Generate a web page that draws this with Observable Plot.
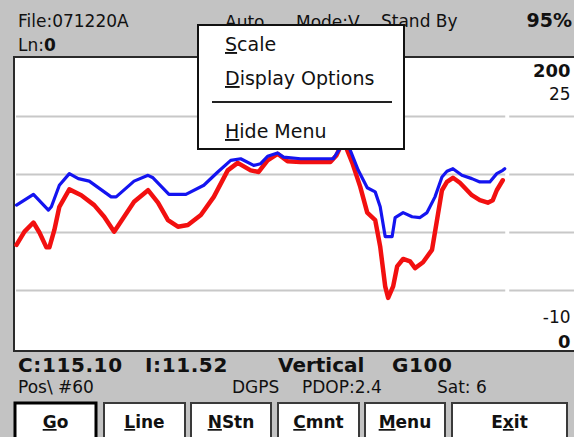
<!DOCTYPE html>
<html>
<head>
<meta charset="utf-8">
<script src="https://cdn.jsdelivr.net/npm/d3@7"></script>
<script src="https://cdn.jsdelivr.net/npm/@observablehq/plot@0.6"></script>
<style>
  html, body { margin: 0; padding: 0; }
  body { width: 574px; height: 437px; background: #c3c3c3; position: relative; overflow: hidden;
         font-family: "DejaVu Sans", sans-serif; }
  #frame { position: absolute; left: 13px; top: 56px; width: 570px; height: 292px;
           border: 2px solid #2a2a2a; background: #fff; box-sizing: content-box; }
  #chart { position: absolute; left: 16px; top: 58px; }
  #chrome { position: absolute; left: 0; top: 0; }
</style>
</head>
<body>
<div id="frame"></div>
<div id="chart"></div>
<script>
// ---- data (station along line, value) ----
const blueX = [0,1.7,3.2,3.5,4.3,5.3,6.2,7.3,9.5,10.0,11.8,13.2,13.7,15.3,17.0,18.8,20.2,21.5,22.5,23.8,24.5,25.2,26.2,26.8,28.5,31.8,32.5,33.0,33.5,34.3,35.2,36.0,36.5,37.0,37.7,38.0,38.8,39.7,40.5,41.2,42.0,42.7,43.2,43.8,44.7,45.7,46.5,47.5,48.2,48.8,49.0];
const blueV = [7.3,8.6,6.7,7.1,9.7,11.1,10.5,10.2,8.3,8.3,10.2,10.9,10.6,8.6,8.6,9.7,11.3,12.7,12.9,12.1,12.3,13.2,13.6,13.1,12.9,12.9,14.2,15.4,13.9,11.5,9.4,8.9,7.1,3.5,3.5,5.8,6.4,5.9,5.8,6.4,8.3,10.7,11.4,11.7,10.9,10.5,10.1,10.1,11.1,11.5,11.7];
const redX = [0,0.8,1.7,2.3,3.0,3.3,3.8,4.3,5.3,6.5,7.8,8.8,9.8,10.8,11.8,13.2,14.2,15.2,16.2,17.2,18.5,19.8,21.2,22.2,23.5,24.3,25.2,26.2,27.2,28.5,31.5,32.1,32.8,33.7,34.5,35.2,36.0,36.5,37.0,37.3,37.8,38.2,38.8,39.5,40.0,40.8,41.7,42.2,42.7,43.2,43.8,44.5,45.7,46.5,47.3,47.8,48.2,48.8];
const redV = [2.5,4.1,5.2,4.0,2.2,2.2,4.3,7.1,9.2,8.5,7.3,5.9,4.1,5.9,7.7,9.1,7.6,5.5,4.7,4.9,6.1,8.3,11.5,12.4,11.5,11.3,12.7,13.5,12.6,12.5,12.5,13.3,15.1,12.4,9.5,6.4,5.5,2.3,-2.5,-3.9,-2.5,-0.1,0.8,0.5,-0.3,0.4,1.9,5.5,9.1,10.1,10.6,10.0,8.5,7.9,7.6,7.9,9.1,10.3];
const gridValues = [18, 11, 4, -3];
const topScaleLabels = ["200", "25"];
const bottomScaleLabels = ["-10", "0"];

const header1 = ["File:071220A", "Auto", "Mode:V", "Stand By", "95%"];
const status1 = ["C:115.10", "I:11.52", "Vertical", "G100"];
const status2 = ["Pos\\ #60", "DGPS", "PDOP:2.4", "Sat: 6"];
const menuItems = ["Scale", "Display Options", "Hide Menu"];
const buttonLabels = ["Go", "Line", "NStn", "Cmnt", "Menu", "Exit"];
const buttonUnderline = [0, 0, 0, 0, 0, 1];

const blue = blueX.map((x, i) => ({x, v: blueV[i]}));
const red = redX.map((x, i) => ({x, v: redV[i]}));

const FONT = '"DejaVu Sans", sans-serif';

const chart = Plot.plot({
  width: 560, height: 291,
  marginTop: 0, marginRight: 0, marginBottom: 0, marginLeft: 0,
  x: {domain: [0, 56], axis: null},
  y: {domain: [-10, 25], axis: null},
  style: {background: "transparent", overflow: "visible", fontFamily: FONT},
  marks: [
    Plot.ruleY(gridValues, {x1: 0, x2: 49.1, stroke: "#c8c8c8", strokeWidth: 2}),
    Plot.ruleY(gridValues, {x1: 49.5, x2: 56, stroke: "#c8c8c8", strokeWidth: 2}),
    Plot.line(red, {x: "x", y: "v", stroke: "#f21010", strokeWidth: 4.5, strokeLinejoin: "round"}),
    Plot.line(blue, {x: "x", y: "v", stroke: "#1414f0", strokeWidth: 3.2, strokeLinejoin: "round"}),
    Plot.text([topScaleLabels[0]], {text: d => d, frameAnchor: "top-right", dx: -4, dy: 6, lineAnchor: "top", fontSize: 18, fontWeight: "bold", fill: "#111"}),
    Plot.text([topScaleLabels[1]], {text: d => d, frameAnchor: "top-right", dx: -4, dy: 30, lineAnchor: "top", fontSize: 17, fill: "#111"}),
    Plot.text([bottomScaleLabels[0]], {text: d => d, frameAnchor: "bottom-right", dx: -4, dy: -26, lineAnchor: "bottom", fontSize: 17, fill: "#111"}),
    Plot.text([bottomScaleLabels[1]], {text: d => d, frameAnchor: "bottom-right", dx: -4, dy: 0, lineAnchor: "bottom", fontSize: 18, fontWeight: "bold", fill: "#111"})
  ]
});
document.getElementById("chart").appendChild(chart);

// ---- device chrome ----
const svg = d3.create("svg").attr("id", "chrome").attr("width", 574).attr("height", 437)
  .style("font-family", FONT).style("font-size", "17px");

function txt(x, y, s, opts = {}) {
  const t = svg.append("text").attr("x", x).attr("y", y).attr("fill", "#111")
    .attr("font-size", opts.size || 17);
  if (opts.bold) t.attr("font-weight", "bold");
  if (opts.anchor) t.attr("text-anchor", opts.anchor);
  if (opts.ls) t.attr("letter-spacing", opts.ls);
  t.text(s);
  return t;
}
function txtU(x, y, s, ui, opts = {}) {
  const t = svg.append("text").attr("x", x).attr("y", y).attr("fill", "#111")
    .attr("font-size", opts.size || 17);
  if (opts.bold) t.attr("font-weight", "bold");
  if (opts.anchor) t.attr("text-anchor", opts.anchor);
  t.append("tspan").text(s.slice(0, ui));
  t.append("tspan").attr("text-decoration", "underline").text(s[ui]);
  t.append("tspan").text(s.slice(ui + 1));
  return t;
}

// header
txt(18, 27, header1[0]);
const ln = txt(18, 51, "Ln:");
ln.append("tspan").attr("font-weight", "bold").text("0");
txt(225, 28, header1[1]);
txt(296, 28, header1[2]);
txt(381, 27, header1[3]);
txt(572, 27, header1[4], {bold: true, anchor: "end", size: 19});

// status rows
txt(18, 372, status1[0], {bold: true, size: 20, ls: 0.6});
txt(145, 372, status1[1], {bold: true, size: 20, ls: 0.6});
txt(278, 372, status1[2], {bold: true, size: 20});
txt(392, 372, status1[3], {bold: true, size: 20, ls: 0.6});
txt(18, 393, status2[0]);
txt(232, 393, status2[1]);
txt(302, 393, status2[2]);
txt(437, 393, status2[3]);

// buttons
const btnLeft = [14, 103, 190, 277, 364, 451];
const btnRight = [97, 186, 272, 360, 446, 568];
buttonLabels.forEach((b, i) => {
  const sel = i === 0;
  svg.append("rect").attr("x", btnLeft[i] + 1).attr("y", 403).attr("width", btnRight[i] - btnLeft[i] - 2)
    .attr("height", 40).attr("fill", "#fff")
    .attr("stroke", sel ? "#000" : "#3a3a3a").attr("stroke-width", sel ? 3 : 2);
  txtU((btnLeft[i] + btnRight[i]) / 2, 428, b, buttonUnderline[i], {bold: true, anchor: "middle"});
});

// popup menu
svg.append("rect").attr("x", 198).attr("y", 25).attr("width", 206).attr("height", 124)
  .attr("fill", "#fff").attr("stroke", "#111").attr("stroke-width", 2);
txtU(225, 51, menuItems[0], 0, {size: 19});
txtU(225, 85, menuItems[1], 0, {size: 19});
svg.append("line").attr("x1", 212).attr("x2", 392).attr("y1", 102).attr("y2", 102)
  .attr("stroke", "#222").attr("stroke-width", 2);
txtU(225, 138, menuItems[2], 0, {size: 19});

document.body.appendChild(svg.node());
</script>
</body>
</html>
